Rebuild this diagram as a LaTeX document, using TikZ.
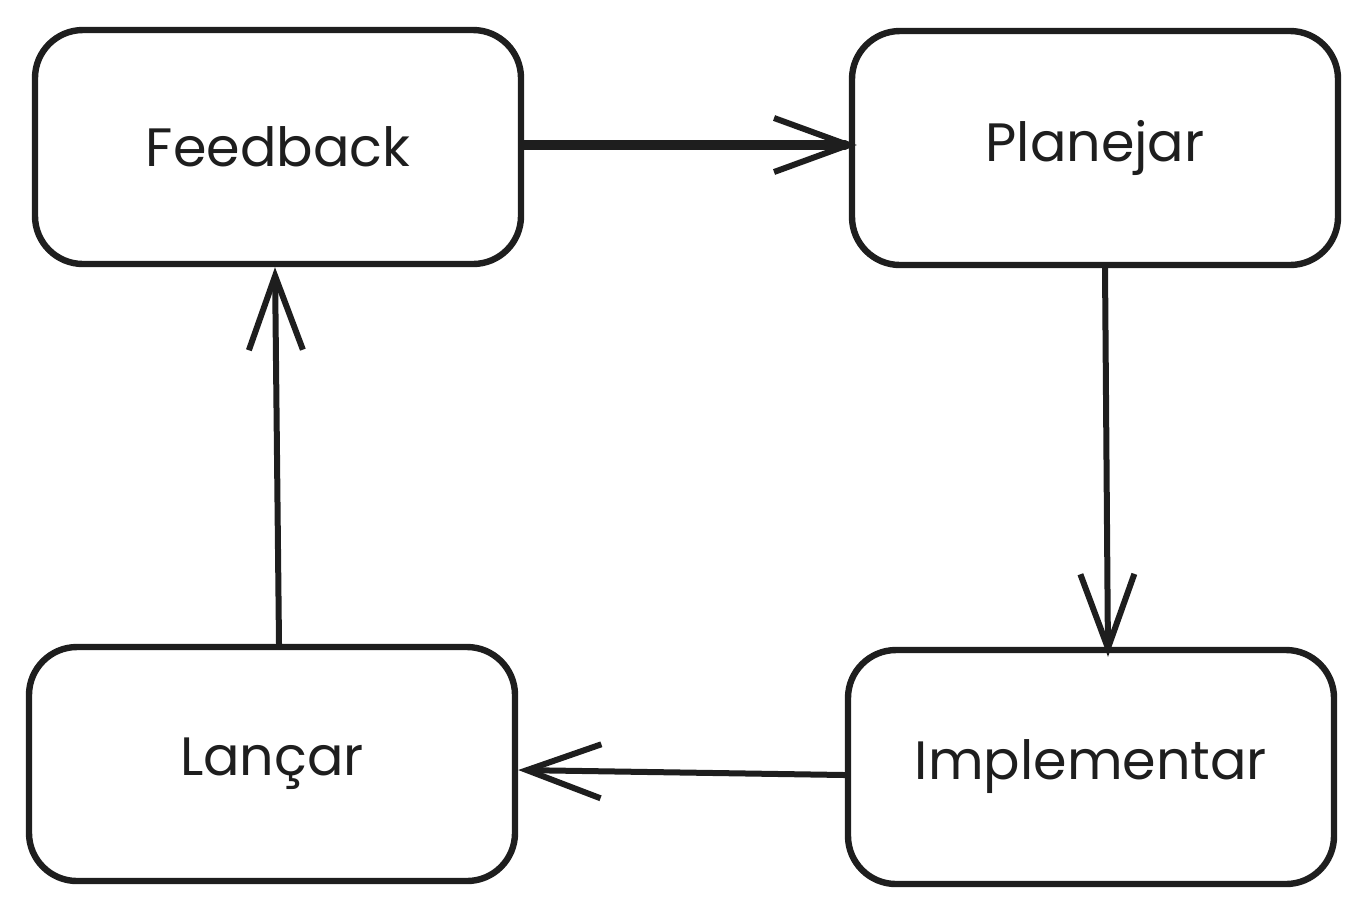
\documentclass[tikz,border=0pt]{standalone}
\usepackage{fontspec}
\setmainfont{Poppins}
\usetikzlibrary{positioning,arrows.meta}
\definecolor{ink}{HTML}{1E1E1E}

\begin{document}
\begin{tikzpicture}[x=0.5pt, y=-0.5pt,
  >={Straight Barb[length=37pt, width=27pt, line width=3pt]},
  box/.style={draw=ink, line width=3.2pt, rounded corners=24pt,
    minimum width=243pt, minimum height=117pt, font=\fontsize{27}{32}\selectfont, text=ink},
  link/.style={->, draw=ink, line width=3pt, line cap=round, line join=round}]

\useasboundingbox (0,0) rectangle (1368,912);

\foreach \m/\l/\a/\b in {feedback/Feedback/278/147, planejar/Planejar/1095/148,
    lancar/Lançar/272/764, implementar/Implementar/1091/767}
  \node [box] (\m) at (\a,\b) {\l};

\draw [link, line width=5pt] ([yshift=1pt]feedback.east) -- ([xshift=4pt, yshift=1.5pt]planejar.west);
\draw [link] ([xshift=5pt]planejar.south) -- ([xshift=8.5pt, yshift=-5pt]implementar.north);
\draw [link] ([yshift=-4pt]implementar.west) -- ([yshift=-3pt]lancar.east);
\draw [link] ([xshift=3.5pt]lancar.north) -- ([xshift=-1.5pt]feedback.south);
\end{tikzpicture}
\end{document}
